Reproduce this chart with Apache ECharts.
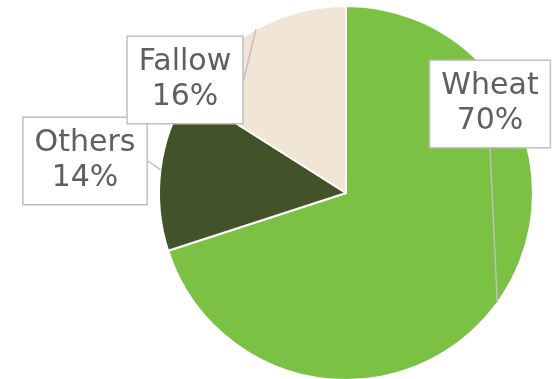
<!DOCTYPE html>
<html><head><meta charset="utf-8">
<script src="https://cdn.jsdelivr.net/npm/echarts@6/dist/echarts.min.js"></script>
<style>html,body{margin:0;padding:0;background:#fff}#c{width:555px;height:379px}</style>
</head><body><div id="c"></div>
<script>
const categories = ['Wheat', 'Others', 'Fallow'];
const values = [70, 14, 16];
const colors = ['#7BC143', '#425229', '#F1E5D8'];
const labelCenters = [[490, 104], [85, 161], [185, 80]];

const base = {
  type: 'pie',
  center: [346, 193],
  radius: 187,
  startAngle: 90,
  clockwise: true,
  avoidLabelOverlap: false,
  emphasis: { disabled: true },
  silent: true
};

const chart = echarts.init(document.getElementById('c'));
chart.setOption({
  animation: false,
  series: [
    Object.assign({}, base, {
      z: 2,
      itemStyle: { borderColor: '#fff', borderWidth: 2 },
      label: { show: false },
      labelLine: { show: false },
      data: categories.map((c, i) => ({ name: c, value: values[i], itemStyle: { color: colors[i] } }))
    }),
    Object.assign({}, base, {
      z: 5,
      itemStyle: { color: 'rgba(0,0,0,0)', borderWidth: 0 },
      data: categories.map((c, i) => ({ name: c, value: values[i] })),
      label: {
        show: true,
        formatter: '{b}\n{d}%',
        fontFamily: 'DejaVu Sans',
        fontSize: 30,
        lineHeight: 35,
        color: '#5f5f5f',
        align: 'center',
        overflow: 'none',
        backgroundColor: '#fff',
        borderColor: '#BFBFBF',
        borderWidth: 1.5,
        padding: [8, 11]
      },
      labelLine: { show: true, length: 0, length2: 0, lineStyle: { color: '#BFBFBF', width: 1.5 } },
      labelLayout: function (p) {
        const pos = labelCenters[p.dataIndex];
        return { x: pos[0], y: pos[1], align: 'center', verticalAlign: 'middle' };
      }
    })
  ]
});
</script></body></html>
